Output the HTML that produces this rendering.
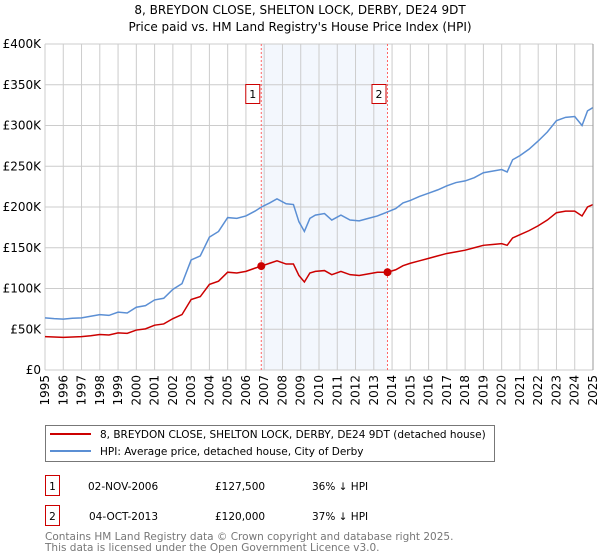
<!DOCTYPE html>
<html><head><meta charset="utf-8"><style>
body{margin:0;background:#fff;font-family:"DejaVu Sans","Liberation Sans",sans-serif;}
svg{display:block}
</style></head><body>
<svg id="c" width="600" height="560" xmlns="http://www.w3.org/2000/svg" font-family="DejaVu Sans, Liberation Sans, sans-serif">
<text x="300" y="14" text-anchor="middle" font-size="12" fill="#000">8, BREYDON CLOSE, SHELTON LOCK, DERBY, DE24 9DT</text>
<text x="300" y="31" text-anchor="middle" font-size="12" fill="#000">Price paid vs. HM Land Registry's House Price Index (HPI)</text>
<g id="plot"></g>
<g>
<rect x="45.5" y="425.5" width="449" height="36" fill="#fff" stroke="#777"/>
<line x1="50" y1="434" x2="91" y2="434" stroke="#cc0000" stroke-width="2"/>
<text x="100" y="438" font-size="10.5">8, BREYDON CLOSE, SHELTON LOCK, DERBY, DE24 9DT (detached house)</text>
<line x1="50" y1="451" x2="91" y2="451" stroke="#5b8fd4" stroke-width="2"/>
<text x="100" y="455" font-size="10.5">HPI: Average price, detached house, City of Derby</text>
</g>
<g font-size="10.5">
<rect x="45.5" y="475.5" width="14" height="20" fill="#fff" stroke="#cc0000"/>
<text x="52.5" y="490" text-anchor="middle">1</text>
<text x="88" y="490">02-NOV-2006</text>
<text x="215" y="490">£127,500</text>
<text x="312" y="490">36% ↓ HPI</text>
<rect x="45.5" y="505.5" width="14" height="20" fill="#fff" stroke="#cc0000"/>
<text x="52.5" y="520" text-anchor="middle">2</text>
<text x="89" y="520">04-OCT-2013</text>
<text x="215" y="520">£120,000</text>
<text x="312" y="520">37% ↓ HPI</text>
</g>
<text x="45" y="540" font-size="10.5" fill="#777">Contains HM Land Registry data © Crown copyright and database right 2025.</text>
<text x="45" y="551" font-size="10.5" fill="#777">This data is licensed under the Open Government Licence v3.0.</text>
</svg>
<script>
const yTicks=[0,50000,100000,150000,200000,250000,300000,350000,400000];
const yTickLabels=["£0","£50K","£100K","£150K","£200K","£250K","£300K","£350K","£400K"];
const xYears=[1995,1996,1997,1998,1999,2000,2001,2002,2003,2004,2005,2006,2007,2008,2009,2010,2011,2012,2013,2014,2015,2016,2017,2018,2019,2020,2021,2022,2023,2024,2025];
const hpiT=[1995,1995.5,1996,1996.5,1997,1997.5,1998,1998.5,1999,1999.5,2000,2000.5,2001,2001.5,2002,2002.5,2003,2003.5,2004,2004.5,2005,2005.5,2006,2006.5,2006.85,2007.3,2007.7,2008.2,2008.6,2008.9,2009.2,2009.5,2009.8,2010.3,2010.7,2011.2,2011.7,2012.2,2012.7,2013.2,2013.75,2014.2,2014.6,2015.0,2015.5,2016.0,2016.5,2017.0,2017.5,2018.0,2018.5,2019.0,2019.5,2020.0,2020.3,2020.6,2021.0,2021.5,2022.0,2022.5,2023.0,2023.5,2024.0,2024.4,2024.7,2025.0];
const hpiV=[64000,63000,62500,63500,64000,66000,68000,67000,71000,70000,77000,79000,86000,88000,99000,106000,135000,140000,163000,170000,187000,186000,189000,195000,200000,205000,210000,204000,203000,182000,170000,186000,190000,192000,184000,190000,184000,183000,186000,189000,194000,198000,205000,208000,213000,217000,221000,226000,230000,232000,236000,242000,244000,246000,243000,258000,263000,271000,281000,292000,306000,310000,311000,300000,318000,322000];
const ppT=hpiT;
const ppV=[41000,40500,40000,40500,41000,42000,43500,43000,45500,45000,49000,50500,55000,56500,63000,68000,86500,90000,105000,109000,120000,119000,121000,125000,127500,131000,134000,130000,130000,116000,108000,119000,121000,122000,117000,121000,117000,116000,118000,120000,120000,123000,128000,131000,134000,137000,140000,143000,145000,147000,150000,153000,154000,155000,153000,162000,166000,171000,177000,184000,193000,195000,195000,189000,200000,203000];
const saleT=[2006.84,2013.75];
const saleV=[127500,120000];
const saleLabels=["1","2"];

const X0=45,X1=593,Y0=370,Y1=44;
const xs=t=>X0+(t-1995)/30*(X1-X0);
const ys=v=>Y0-v/400000*(Y0-Y1);
const NS="http://www.w3.org/2000/svg";
const g=document.getElementById('plot');
function mk(tag,attrs,parent){const e=document.createElementNS(NS,tag);for(const k in attrs)e.setAttribute(k,attrs[k]);(parent||g).appendChild(e);return e;}

const shade=mk('rect',{x:xs(saleT[0]),y:Y1,width:xs(saleT[1])-xs(saleT[0]),height:Y0-Y1,fill:'#eef3fc',opacity:0.7});



yTicks.forEach((v,i)=>{
  const l=mk('line',{x1:X0,x2:X1,y1:ys(v),y2:ys(v),stroke:'#cccccc','stroke-width':1});
  
  
  const t=mk('text',{x:X0-4,y:ys(v)+4,'text-anchor':'end','font-size':12,fill:'#000'});
  t.textContent=yTickLabels[i];
  
  
});
xYears.forEach(yr=>{
  const l=mk('line',{x1:xs(yr),x2:xs(yr),y1:Y1,y2:Y0,stroke:'#cccccc','stroke-width':1});
  
  
  const t=mk('text',{x:0,y:0,'text-anchor':'end','font-size':12,fill:'#000',transform:`translate(${xs(yr)+4},${Y0+5}) rotate(-90)`});
  t.textContent=yr;
  
  
});

saleT.forEach((t,i)=>{
  const l=mk('line',{x1:xs(t),x2:xs(t),y1:Y1,y2:Y0,stroke:'#ff6666','stroke-width':1,'stroke-dasharray':'2,2'});
  
  
});

const hp=mk('polyline',{points:hpiT.map((t,i)=>xs(t)+','+ys(hpiV[i])).join(' '),fill:'none',stroke:'#5b8fd4','stroke-width':1.5});


const pp=mk('polyline',{points:ppT.map((t,i)=>xs(t)+','+ys(ppV[i])).join(' '),fill:'none',stroke:'#cc0000','stroke-width':1.5});



saleT.forEach((t,i)=>{
  const c=mk('circle',{cx:xs(t),cy:ys(saleV[i]),r:4,fill:'#cc0000'});
  
  
  const r=mk('rect',{x:xs(t)-15.5,y:84.5,width:14,height:19,fill:'#fff',stroke:'#cc0000'});
  
  
  const tx=mk('text',{x:xs(t)-8.5,y:98,'text-anchor':'middle','font-size':11});
  tx.textContent=saleLabels[i];
  
  
});
const ax=mk('line',{x1:X1,x2:X1,y1:Y1,y2:Y0,stroke:'#999','stroke-width':1});


</script>
</body></html>
